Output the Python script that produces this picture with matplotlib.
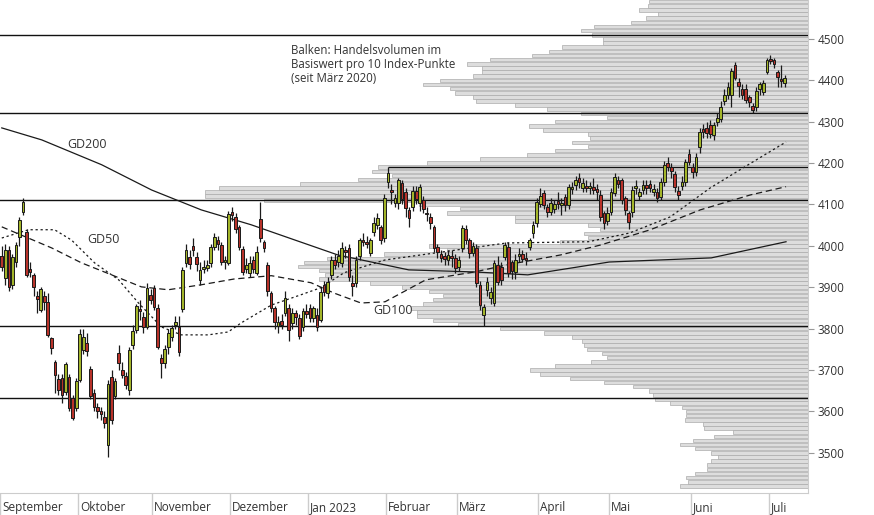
import matplotlib
matplotlib.use("Agg")
import matplotlib.pyplot as plt
import matplotlib.transforms as mtransforms
import pandas as pd
import numpy as np

plt.rcParams['font.family'] = ['Open Sans', 'DejaVu Sans']

start_date = "2022-08-31"
opens = [3960,3975,3923,3990,3906,3960,4022,4082,4034,3945,
 3930,3880,3845,3880,3865,3778,3720,3679,3680,3647,
 3684,3633,3609,3676,3749,3765,3703,3645,3611,3602,
 3587,3519,3684,3638,3741,3700,3686,3652,3761,3797,
 3848,3828,3804,3882,3899,3850,3729,3717,3756,3780,
 3808,3804,3848,3959,3973,4000,3973,3918,3945,3947,
 3959,3998,4015,4002,3960,3959,4082,4070,4046,3993,
 3945,3935,3965,3935,4065,4010,3954,3886,3850,3807,
 3818,3838,3850,3814,3838,3826,3804,3843,3850,3826,
 3833,3821,3906,3886,3930,3966,3960,3959,3990,3995,
 3911,3911,3976,4014,4010,3983,4034,4051,4046,4019,
 4155,4135,4104,4104,4152,4130,4087,4094,4133,4104,
 4111,4080,4070,4046,3998,3980,3975,3965,3975,3971,
 3950,3995,4040,4014,3983,3995,3906,3833,3894,3874,
 3862,3954,3950,3973,3998,3960,3937,3975,3980,3970,
 3998,4031,4055,4102,4128,4093,4082,4090,4108,4098,
 4118,4099,4138,4148,4164,4140,4145,4140,4142,4138,
 4123,4080,4060,4082,4128,4160,4159,4115,4080,4082,
 4140,4120,4135,4148,4150,4130,4130,4118,4155,4200,
 4190,4174,4133,4145,4155,4222,4190,4179,4239,4282,
 4285,4292,4268,4300,4307,4350,4365,4365,4437,4396,
 4379,4379,4360,4338,4336,4380,4372,4420,4452,4450,
 4420,4402,4394]
highs = [3990,4000,4005,4000,3980,4010,4070,4116,4040,3960,
 3935,3890,3900,3890,3885,3780,3725,3690,3690,3720,
 3690,3640,3680,3800,3800,3790,3710,3655,3620,3610,
 3600,3675,3700,3680,3760,3720,3695,3755,3810,3860,
 3870,3840,3910,3895,3905,3860,3740,3760,3800,3810,
 3830,3830,3950,4005,3990,4020,3985,3960,3965,3965,
 4005,4030,4025,4010,3975,4085,4095,4080,4050,4000,
 3970,3975,3975,4000,4105,4015,3960,3890,3855,3830,
 3835,3890,3860,3850,3845,3835,3850,3860,3860,3855,
 3850,3900,3915,3925,3975,3980,3990,4010,4000,4005,
 3930,3975,4020,4030,4025,4020,4070,4080,4050,4125,
 4190,4150,4125,4165,4160,4140,4095,4145,4145,4150,
 4120,4095,4080,4050,4005,3990,3985,3990,3990,3980,
 3975,4050,4050,4020,4010,4005,3915,3860,3925,3900,
 3965,3975,3960,4010,4010,3965,3980,3995,3990,3985,
 4020,4060,4115,4140,4135,4100,4115,4110,4130,4115,
 4125,4150,4155,4170,4175,4165,4160,4155,4165,4150,
 4135,4085,4095,4140,4175,4170,4165,4120,4085,4145,
 4160,4140,4160,4160,4160,4150,4140,4165,4205,4215,
 4200,4180,4145,4170,4210,4235,4200,4225,4285,4295,
 4300,4305,4300,4320,4350,4380,4395,4430,4444,4405,
 4390,4390,4365,4345,4385,4395,4400,4455,4460,4455,
 4425,4437,4412]
lows = [3930,3940,3905,3890,3895,3950,4000,4075,3925,3925,
 3880,3838,3840,3845,3780,3740,3645,3640,3620,3640,
 3600,3580,3600,3670,3740,3735,3630,3600,3585,3580,
 3560,3490,3570,3630,3700,3680,3655,3640,3750,3790,
 3820,3790,3800,3860,3845,3750,3680,3705,3740,3770,
 3800,3735,3840,3950,3945,3975,3940,3905,3935,3940,
 3950,3990,3990,3955,3945,3955,4060,4030,3990,3930,
 3935,3925,3935,3930,4010,3985,3880,3840,3800,3790,
 3800,3830,3770,3800,3810,3775,3795,3825,3815,3815,
 3795,3815,3880,3875,3920,3945,3950,3950,3970,3915,
 3880,3900,3965,4000,3995,3975,4025,4040,4005,4010,
 4140,4100,4095,4090,4100,4070,4045,4085,4100,4085,
 4080,4060,4040,3985,3970,3960,3955,3955,3950,3935,
 3940,3985,4005,3970,3975,3900,3845,3807,3880,3860,
 3855,3905,3905,3965,3925,3920,3920,3960,3960,3955,
 3990,4020,4045,4095,4090,4070,4075,4080,4090,4075,
 4085,4090,4125,4135,4140,4130,4130,4125,4125,4110,
 4060,4040,4050,4075,4120,4140,4100,4075,4040,4070,
 4125,4110,4125,4125,4130,4120,4105,4110,4145,4180,
 4165,4130,4110,4135,4145,4195,4165,4170,4225,4260,
 4260,4260,4255,4290,4300,4340,4355,4336,4400,4360,
 4355,4345,4335,4320,4325,4365,4365,4415,4440,4430,
 4384,4385,4385]
closes = [3975,3950,3990,3900,3973,4002,4063,4106,3930,3938,
 3900,3872,3896,3865,3785,3754,3688,3652,3640,3715,
 3609,3585,3674,3787,3780,3745,3638,3611,3600,3594,
 3572,3667,3580,3674,3717,3688,3664,3749,3795,3855,
 3842,3804,3899,3870,3853,3756,3717,3750,3790,3802,
 3817,3744,3942,3990,3956,3990,3956,3942,3950,3955,
 3997,4022,4005,3961,3965,4077,4075,4041,3998,3937,
 3955,3959,3945,3985,4019,3995,3891,3850,3816,3816,
 3810,3874,3797,3838,3828,3783,3843,3835,3826,3850,
 3804,3889,3889,3913,3966,3955,3975,3995,3985,3925,
 3903,3966,4014,4010,4005,4014,4056,4068,4014,4116,
 4176,4130,4116,4159,4113,4092,4068,4133,4113,4142,
 4089,4078,4055,3995,3985,3971,3968,3978,3970,3947,
 3965,4043,4015,3983,4000,3910,3857,3853,3913,3889,
 3959,3913,3918,4002,3935,3940,3966,3980,3968,3965,
 4014,4051,4106,4121,4099,4082,4104,4100,4100,4104,
 4099,4142,4142,4160,4155,4152,4140,4145,4135,4130,
 4070,4055,4080,4130,4167,4150,4111,4086,4058,4135,
 4145,4130,4148,4140,4140,4138,4115,4155,4196,4190,
 4180,4142,4124,4155,4203,4203,4179,4215,4275,4276,
 4272,4270,4292,4310,4336,4365,4385,4423,4406,4386,
 4365,4353,4348,4328,4374,4390,4394,4449,4447,4440,
 4408,4398,4406]

# moving averages read at anchor points (trading-day index, value)
gd200_idx = [1,12.3,29.2,43.3,57.3,71.4,83.8,95.9,115.9,134.5,149.5,172.5,201.3,222.4]
gd200_val = [4285,4256,4196,4135,4087,4051,4014,3978,3942,3937,3930,3961,3971,4010]
gd100_idx = [1,15.1,23.5,32,40.4,48,57.3,66.6,77.1,88.3,94.8,102.4,109.2,120.7,134.5,143.5,158.7,170,184.1,198.2,212.3,222.4]
gd100_val = [4046,3995,3959,3930,3901,3894,3906,3920,3928,3911,3886,3862,3865,3918,3937,3954,3978,4002,4039,4087,4123,4143]
gd50_idx = [1,8.6,15.9,20.7,27.2,34,39.6,46.1,51.7,59.3,64.9,68.6,77.1,85.5,91.1,97.6,109.2,143.5,166.6,178.2,189.7,201,212.5,222.4]
gd50_val = [4019,4039,4039,4014,3959,3918,3862,3804,3785,3785,3792,3814,3857,3882,3899,3935,3966,4007,4010,4031,4070,4140,4200,4251]

# volume profile, 10-point levels from 4590 downward
profile_top = 4590
profile_vol = [159,160,169,150,162,177,214,227,216,205,
 205,246,259,276,318,341,326,326,335,368,
 385,358,353,335,332,293,261,227,201,253,
 279,265,220,218,236,220,253,281,328,381,
 430,436,416,450,508,589,603,603,544,389,
 348,361,293,293,220,208,224,220,248,379,
 361,424,481,504,510,489,483,489,438,406,
 379,365,375,385,397,391,391,375,350,308,
 264,236,226,224,221,206,201,217,253,278,
 268,238,204,175,159,155,153,138,126,122,
 122,123,105,104,75,94,115,128,113,97,
 90,97,101,101,113,122,120,128]

levels_full = [4510, 4320, 4110, 3807, 3633]
level_partial = 4190
level_partial_start = 110

month_labels = ["September","Oktober","November","Dezember","Jan 2023","Februar","März","April","Mai","Juni","Juli"]
yticks = list(range(3500, 4501, 100))

dates = pd.bdate_range(start_date, periods=len(closes))
idx = np.arange(len(closes))

W, H = 874, 515
fig = plt.figure(figsize=(W/100, H/100), dpi=100)
ax = fig.add_axes([0, 22/H, 808/W, 1 - 22/H])
ax2 = ax.twiny()
ax.set_zorder(2); ax.patch.set_visible(False)
ax2.set_zorder(1)

ymin, ymax = 3403, 4594
ax.set_ylim(ymin, ymax)
ax.set_xlim(1, 1 + 808/3.55)

# profile
levels = [profile_top - 10*k for k in range(len(profile_vol))]
ax2.barh(levels, profile_vol, height=8.6, left=0, color='#dddddd', edgecolor='#ababab', linewidth=0.5)
ax2.set_xlim(808, 0)
ax2.axis('off')

# horizontal lines
for lv in levels_full:
    ax.axhline(lv, color='#111111', lw=1.0, zorder=3)
ax.hlines(level_partial, level_partial_start, 1 + 808/3.55, color='#111111', lw=1.0, zorder=3)

# moving averages
ax.plot(gd200_idx, gd200_val, color='#1a1a1a', lw=0.9, zorder=4)
ax.plot(gd100_idx, gd100_val, color='#1a1a1a', lw=0.9, dashes=(5, 3), zorder=4)
ax.plot(gd50_idx, gd50_val, color='#1a1a1a', lw=0.9, dashes=(1.8, 2.2), zorder=4)

# candles
green, red = '#a3b52a', '#b8322a'
for i in idx:
    o, h, l, c = opens[i], highs[i], lows[i], closes[i]
    ax.vlines(i, l, h, color='#1a1a1a', lw=0.9, zorder=5)
    col = green if c >= o else red
    b = min(o, c); hh = max(abs(c - o), 2)
    ax.add_patch(plt.Rectangle((i - 0.38, b), 0.76, hh, facecolor=col, edgecolor='#1a1a1a', lw=0.7, zorder=6))

# labels
ax.text(66/3.55 + 1, 4500 - (145-39)/0.414, "GD200", fontsize=9, color='#333333', va='center', zorder=7)
ax.text(86/3.55 + 1, 4500 - (240-39)/0.414, "GD50", fontsize=9, color='#333333', va='center', zorder=7)
ax.text(372/3.55 + 1, 4500 - (311-39)/0.414, "GD100", fontsize=9, color='#333333', va='center', zorder=7)
ax.text(290/3.55 + 1, 4500 - (44-39)/0.414, "Balken: Handelsvolumen im\nBasiswert pro 10 Index-Punkte\n(seit März 2020)",
        fontsize=8.3, color='#333333', va='top', ha='left', linespacing=1.12, zorder=7)

# y axis on right
ax.yaxis.tick_right()
ax.set_yticks(yticks)
ax.set_yticklabels([str(v) for v in yticks], fontsize=8.5, color='#333333')
ax.tick_params(axis='y', length=4, color='#999999', pad=3)

# x axis month ticks
month_pos = []
for m in range(len(month_labels)):
    per = pd.Period(dates[0], 'M') + 1 + m
    mask = (dates.year == per.year) & (dates.month == per.month)
    month_pos.append(int(idx[mask][0]))
ax.set_xticks([p - 0.5 for p in month_pos])
ax.set_xticklabels([])
ax.tick_params(axis='x', length=22, color='#cccccc', width=1)
trans = mtransforms.blended_transform_factory(ax.transData, ax.transAxes)
for p, lab in zip(month_pos, month_labels):
    ax.annotate(lab, (p - 0.5, 0), xycoords=trans, xytext=(2, -18), textcoords='offset pixels',
                fontsize=8.5, color='#333333', ha='left', va='baseline')

for s in ['top', 'left']:
    ax.spines[s].set_visible(False)
ax.spines['bottom'].set_color('#cccccc')
ax.spines['right'].set_color('#cccccc')

fig.savefig("out.png", dpi=100)
